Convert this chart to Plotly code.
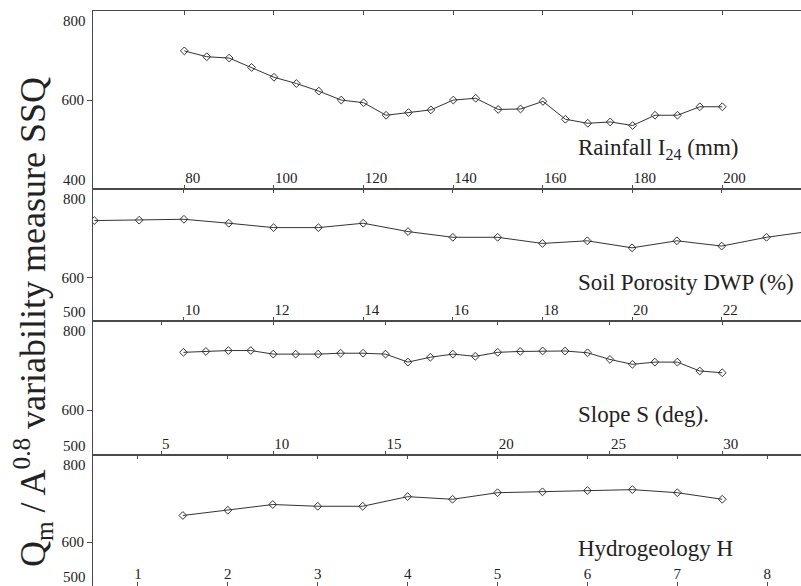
import plotly.graph_objects as go

# ---------------- data ----------------
rain_x = [80, 85, 90, 95, 100, 105, 110, 115, 120, 125, 130, 135, 140, 145, 150,
          155, 160, 165, 170, 175, 180, 185, 190, 195, 200]
rain_y = [710, 697, 694, 673, 651, 637, 620, 600, 594, 566, 572, 578, 600, 604, 579,
          580, 597, 557, 548, 551, 543, 566, 566, 585, 585]

por_x = [8, 9, 10, 11, 12, 13, 14, 15, 16, 17, 18, 19, 20, 21, 22, 23, 24]
por_y = [729, 730, 732, 723, 713, 713, 723, 704, 691, 691, 677, 683, 667, 683, 671, 691, 705]

slope_x = [6, 7, 8, 9, 10, 11, 12, 13, 14, 15, 16, 17, 18, 19, 20, 21, 22, 23, 24,
           25, 26, 27, 28, 29, 30]
slope_y = [730, 732, 734, 734, 726, 726, 726, 728, 728, 726, 708, 719, 726, 721, 730,
           732, 733, 733, 729, 714, 703, 708, 708, 688, 684]

hyd_x = [1.5, 2, 2.5, 3, 3.5, 4, 4.5, 5, 5.5, 6, 6.5, 7, 7.5]
hyd_y = [661, 673, 686, 682, 682, 704, 698, 713, 715, 718, 720, 713, 698]

rain_ticks = [80, 100, 120, 140, 160, 180, 200]
por_ticks = [10, 12, 14, 16, 18, 20, 22]
slope_ticks = [5, 10, 15, 20, 25, 30]
hyd_ticks = [1, 2, 3, 4, 5, 6, 7, 8]

panel_labels = ["Rainfall I<sub>24</sub> (mm)", "Soil Porosity DWP (%)",
                "Slope S (deg).", "Hydrogeology H"]
y_title = "Q<sub>m</sub> / A<sup>0.8</sup> variability measure SSQ"

# ---------------- figure ----------------
W, H = 801, 586
ML = 93
FONT = "'Liberation Serif', 'DejaVu Serif', 'Times New Roman', Times, serif"
INK = "#333333"
AX = "#4a4a4a"
TXT = "#222222"


def py(px):
    return 1 - px / H


def pxx(px):
    return (px - ML) / (W - ML)


panels = [
    dict(x=rain_x, y=rain_y, xr=[59.63, 217.56], yr=[400, 800], top=10.7, bot=189.4,
         ticks=rain_ticks, tpos="inside right", lab_y=149),
    dict(x=por_x, y=por_y, xr=[7.97, 23.77], yr=[500, 800], top=189.4, bot=321.2,
         ticks=por_ticks, tpos="inside right", lab_y=282),
    dict(x=slope_x, y=slope_y, xr=[1.97, 33.51], yr=[500, 800], top=321.2, bot=454.6,
         ticks=slope_ticks, tpos="inside right", lab_y=414),
    dict(x=hyd_x, y=hyd_y, xr=[0.5, 8.376], yr=[500, 800], top=454.6, bot=586,
         ticks=hyd_ticks, tpos="inside", lab_y=548),
]

fig = go.Figure()
annotations = []
layout = {}
for i, p in enumerate(panels, start=1):
    sfx = "" if i == 1 else str(i)
    fig.add_trace(go.Scatter(
        x=p["x"], y=p["y"], mode="lines+markers",
        xaxis="x" + sfx, yaxis="y" + sfx,
        line=dict(color=INK, width=1),
        marker=dict(symbol="diamond-open", size=6, color=INK, line=dict(width=1)),
        showlegend=False, hoverinfo="skip", cliponaxis=True,
    ))
    dom = [py(p["bot"]), py(p["top"])]
    layout["xaxis" + sfx] = dict(
        domain=[0, 1], range=p["xr"], anchor="y" + sfx,
        showline=True, linecolor=AX, linewidth=1, mirror="ticks",
        ticks="inside", ticklen=4, tickcolor=AX, tickwidth=1,
        tickvals=p["ticks"], ticklabelposition=p["tpos"],
        tickfont=dict(family=FONT, size=15, color=TXT),
        showgrid=False, zeroline=False, fixedrange=True,
    )
    layout["yaxis" + sfx] = dict(
        domain=dom, range=p["yr"], anchor="x" + sfx,
        showline=True, linecolor=AX, linewidth=1, mirror=False,
        ticks="outside", ticklen=5, tickcolor=AX, tickwidth=1,
        tickvals=[600], ticktext=["600"],
        tickfont=dict(family=FONT, size=15, color=TXT),
        showgrid=False, zeroline=False, fixedrange=True,
    )
    annotations.append(dict(
        xref="paper", yref="y" + sfx, x=pxx(88), y=p["yr"][1], text=str(p["yr"][1]),
        xanchor="right", yanchor="top", yshift=0, showarrow=False,
        font=dict(family=FONT, size=15, color=TXT)))
    annotations.append(dict(
        xref="paper", yref="y" + sfx, x=pxx(88), y=p["yr"][0], text=str(p["yr"][0]),
        xanchor="right", yanchor="bottom", yshift=-1, showarrow=False,
        font=dict(family=FONT, size=15, color=TXT)))
    annotations.append(dict(
        xref="paper", yref="paper", x=pxx(576), y=py(p["lab_y"]),
        text=panel_labels[i - 1], xanchor="left", yanchor="middle", showarrow=False,
        font=dict(family=FONT, size=23, color=TXT)))

annotations.append(dict(
    xref="paper", yref="paper", x=pxx(33), y=py(322), text=y_title,
    textangle=-90, xanchor="center", yanchor="middle", showarrow=False,
    font=dict(family=FONT, size=36, color=TXT)))

fig.update_layout(
    width=W, height=H,
    margin=dict(l=ML, r=0, t=0, b=0),
    paper_bgcolor="white", plot_bgcolor="white",
    font=dict(family=FONT),
    annotations=annotations,
    **layout,
)

fig.write_html("out.html")
